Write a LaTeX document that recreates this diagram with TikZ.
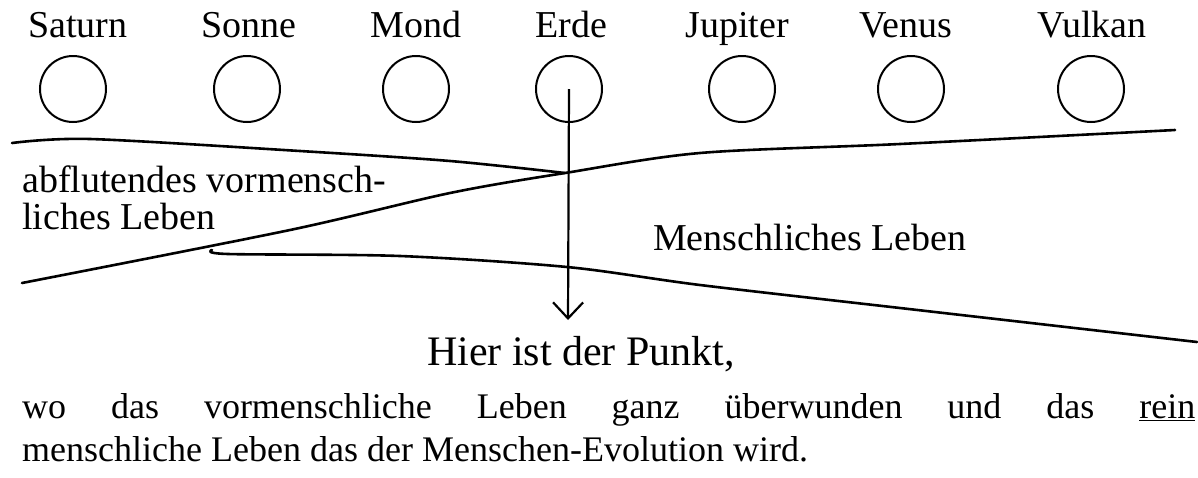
\documentclass[tikz,border=0pt]{standalone}
\usepackage{fontspec}
\setmainfont{Liberation Serif}
\usetikzlibrary{arrows.meta}

\begin{document}
\begin{tikzpicture}[x=1pt, y=-1pt,
      pl/.style={circle, draw, line width=2pt, minimum size=66pt, inner sep=0pt},
      nm/.style={anchor=base, inner sep=0pt, font=\fontsize{38}{40}\selectfont},
      strom/.style={line width=2.6pt, line cap=round, line join=round},
      every node/.style={align=center}]
    \useasboundingbox (0,0) rectangle (1198,477);
    % Namen
    \node[nm] (tsat) at (78,37)   {Saturn};
    \node[nm] (tson) at (249,37)  {Sonne};
    \node[nm] (tmon) at (416,37)  {Mond};
    \node[nm] (terd) at (571,37)  {Erde};
    \node[nm] (tjup) at (737,37)  {Jupiter};
    \node[nm] (tven) at (906,37)  {Venus};
    \node[nm] (tvul) at (1092,37) {Vulkan};
    % Kreise
    \node[pl] (sat) at (73,89)   {};
    \node[pl] (son) at (247,89)  {};
    \node[pl] (mon) at (416,89)  {};
    \node[pl] (erd) at (569,89)  {};
    \node[pl] (jup) at (742,89)  {};
    \node[pl] (ven) at (911,89)  {};
    \node[pl] (vul) at (1091,89) {};
    % Stroeme
    \coordinate (meet) at (565,173);
    \draw[strom] plot[smooth, tension=0.5] coordinates
      {(12,143) (90,139) (300,151) (450,161) (meet)};
    \draw[strom] plot[smooth, tension=0.5] coordinates
      {(22,283) (290,230) (450,193) (meet) (700,153) (900,144) (1175,130)};
    \draw[strom] plot[smooth, tension=0.5] coordinates
      {(212,250) (228,254) (400,256) (567,267) (700,285) (900,308) (1197,342)};
    \node[anchor=north west, inner sep=0pt, align=left,
          font=\fontsize{38}{37}\selectfont] (abfl) at (22,166)
          {abflutendes vormensch-\\liches Leben};
    \node[anchor=base west, inner sep=0pt, font=\fontsize{38}{40}\selectfont]
          (mensch) at (653,250) {Menschliches Leben};
    % Pfeil
    \coordinate (spitze) at (568,320);
    \draw[line width=2.2pt, -{Straight Barb[length=16pt,width=30pt]}] (erd.center) -- (spitze);
    \node[anchor=base, inner sep=0pt, font=\fontsize{42}{44}\selectfont]
          (hier) at (581,365) {Hier ist der Punkt,};
    \node[anchor=north west, inner sep=0pt, text width=1173pt, align=justify,
          font=\fontsize{36}{43}\selectfont] (satz) at (22,393)
          {wo das vormenschliche Leben ganz überwunden und das \underline{rein}\linebreak
           menschliche Leben das der Menschen-Evolution wird.};
  \end{tikzpicture}
\end{document}
